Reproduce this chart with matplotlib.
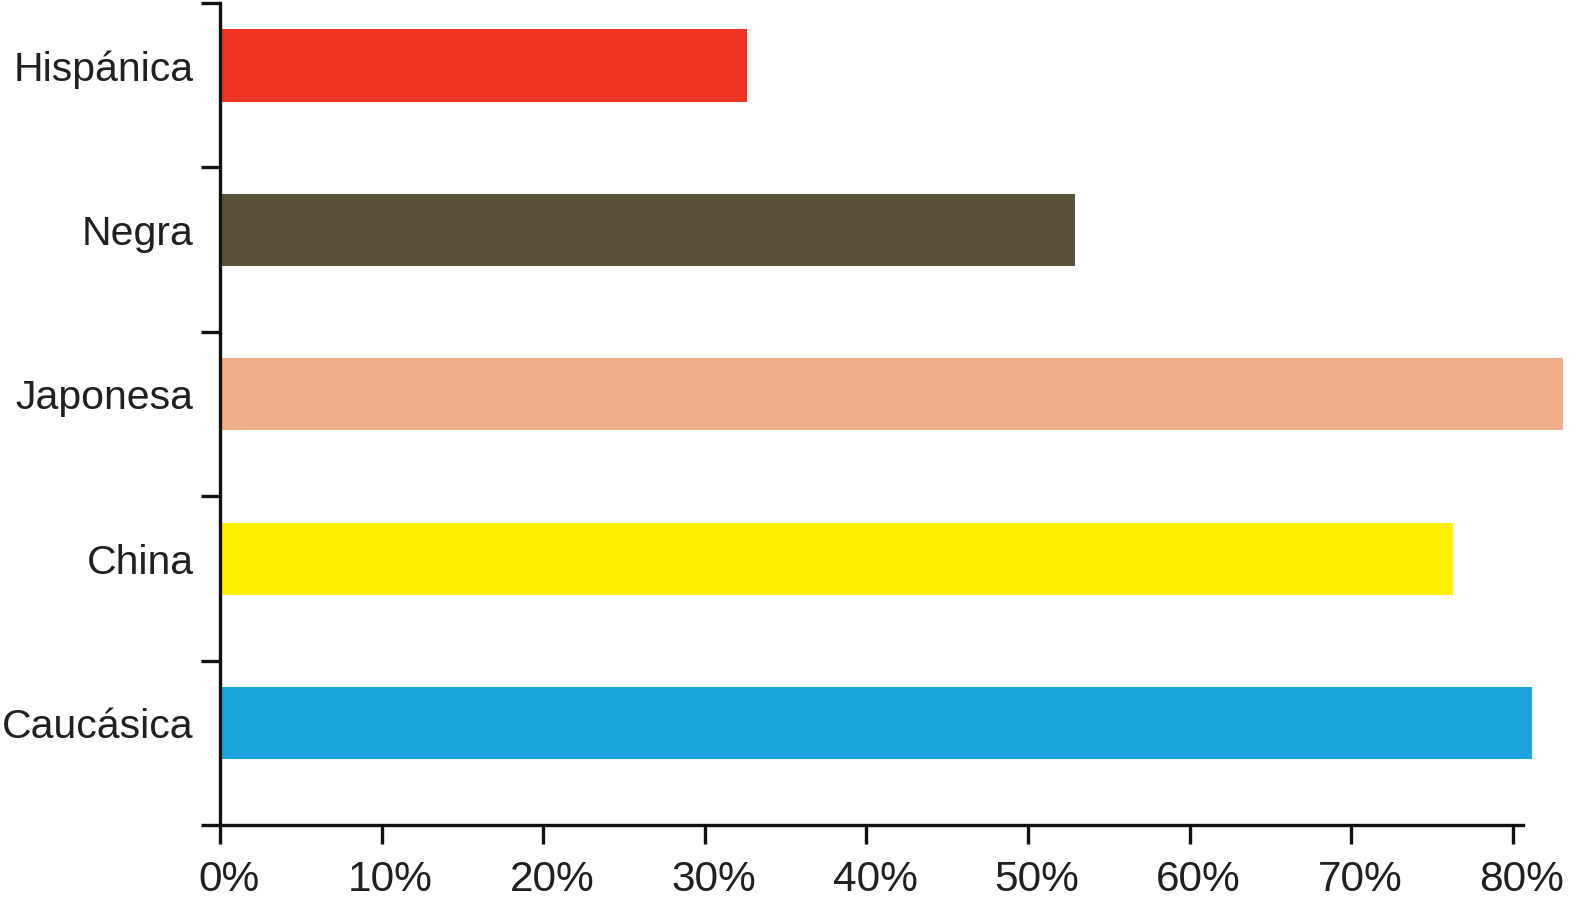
import matplotlib
matplotlib.use("Agg")
import matplotlib.pyplot as plt
import matplotlib.transforms as mtransforms
import numpy as np

categories = ["Hispánica", "Negra", "Japonesa", "China", "Caucásica"]
values = [32.6, 52.9, 83.1, 76.3, 81.2]
colors = ["#EE3524", "#5A5238", "#F2AE88", "#FFF200", "#1BA5DC"]
xticks = [0, 10, 20, 30, 40, 50, 60, 70, 80]
xticklabels = [f"{v}%" for v in xticks]

fig = plt.figure(figsize=(15.76, 9.08), dpi=100)
ax = fig.add_axes([220/1576, 83/908, 1 - 220/1576, (825-3)/908])

pos = np.arange(len(categories))
ax.barh(pos, values, height=0.44, color=colors, edgecolor="none")

ax.set_xlim(0, 83.9)
ax.set_ylim(len(categories) - 0.38, -0.38)

for s in ["top", "right"]:
    ax.spines[s].set_visible(False)
for s in ["left", "bottom"]:
    ax.spines[s].set_linewidth(2.4)
    ax.spines[s].set_color("#111111")
ax.spines["bottom"].set_bounds(0, 80.6)

ax.set_xticks(xticks)
ax.set_xticklabels(xticklabels, family=["Liberation Sans", "DejaVu Sans"],
                   fontsize=30.5, color="#231F20")
ax.tick_params(axis="x", length=14, width=2.4, pad=11, color="#111111")
offset = mtransforms.ScaledTranslation(9/100, 0, fig.dpi_scale_trans)
for lab in ax.get_xticklabels():
    lab.set_transform(lab.get_transform() + offset)

# separator ticks on y axis (major), labels on minor ticks at bar centers
ax.set_yticks(np.arange(len(categories) + 1) - 0.38)
ax.set_yticklabels([])
ax.tick_params(axis="y", which="major", length=14, width=2.4, color="#111111")
ax.set_yticks(pos, minor=True)
ax.set_yticklabels(categories, minor=True, family=["Liberation Sans", "DejaVu Sans"],
                   fontsize=29.5, color="#231F20")
ax.tick_params(axis="y", which="minor", length=0, pad=19)

fig.savefig("out.png", dpi=100)
